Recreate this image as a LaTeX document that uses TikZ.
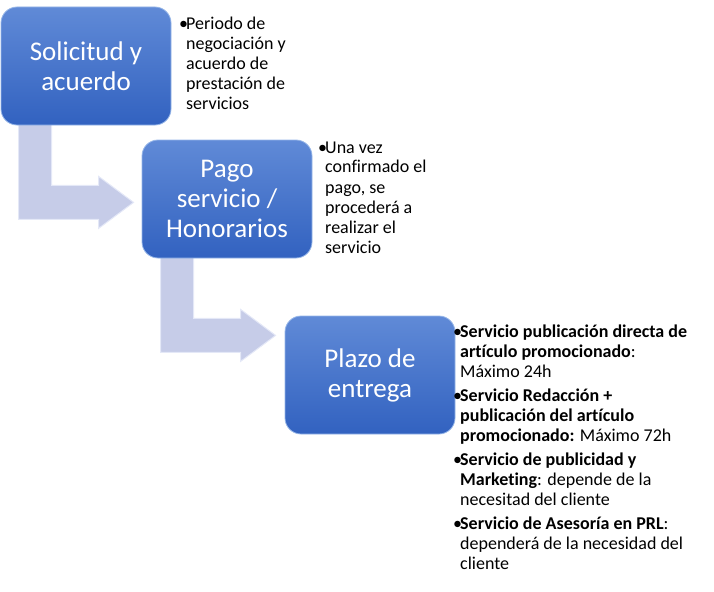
\documentclass[tikz,border=0pt]{standalone}
\usepackage{fontspec}
\setmainfont{Carlito}[Ligatures=NoCommon]
\usetikzlibrary{calc,backgrounds}
\definecolor{boxtop}{RGB}{96,138,215}
\definecolor{boxbot}{RGB}{50,98,192}
\definecolor{boxedge}{RGB}{150,182,232}
\definecolor{arrowfill}{RGB}{198,204,232}
\definecolor{arrowedge}{RGB}{228,232,247}
\newcommand\bitem{\par\hangindent=7pt\hangafter=1\noindent\makebox[7pt][l]{•}}
\begin{document}
\begin{tikzpicture}[x=1pt,y=-1pt,
  stepbox/.style={rounded corners=16pt, top color=boxtop, bottom color=boxbot,
    draw=boxedge, line width=0.8pt, minimum width=170pt, minimum height=118pt,
    text=white, align=center, font=\fontsize{27}{30}\selectfont, inner sep=0pt},
  desc/.style={anchor=base west, inner sep=0pt, font=\fontsize{18}{20}\selectfont},
  bentarrow/.style={fill=arrowfill, draw=arrowedge, line width=1pt, line join=miter}]
\useasboundingbox (0,0) rectangle (714,591);

\node[stepbox] (s1) at (86,66) {Solicitud y\\acuerdo};
\node[stepbox] (s2) at (227,199) {Pago\\servicio /\\Honorarios};
\node[stepbox] (s3) at (370,375) {Plazo de\\entrega};

\begin{scope}[on background layer]
\draw[bentarrow] ($(s1.south west)+(18,-5)$) coordinate (a1) -- ++(33,0) -- ++(0,65) -- ++(47,0) -- ++(0,-9)
  -- ++(35,26) -- ++(-35,26) -- ++(0,-9) -- ++(-80,0) -- cycle;
\draw[bentarrow] ($(s2.south west)+(19,-5)$) coordinate (a2) -- ++(33,0) -- ++(0,65) -- ++(47,0) -- ++(0,-9)
  -- ++(35,26) -- ++(-35,26) -- ++(0,-9) -- ++(-80,0) -- cycle;
\end{scope}

\node[desc] (d1) at (179,30) {\parbox[t]{150pt}{\bitem Periodo de\\negociación y\\acuerdo de\\prestación de\\servicios}};
\node[desc] (d2) at (318,153) {\parbox[t]{150pt}{\bitem Una vez\\confirmado el\\pago, se\\procederá a\\realizar el\\servicio}};
\node[desc] (d3) at (453,337) {\parbox[t]{260pt}{\parskip=4pt
\bitem\textbf{Servicio publicación directa de\\artículo promocionado}:\\Máximo 24h
\bitem\textbf{Servicio Redacción +\\publicación del artículo\\promocionado:} Máximo 72h
\bitem\textbf{Servicio de publicidad y\\Marketing}: depende de la\\necesitad del cliente
\bitem\textbf{Servicio de Asesoría en PRL}:\\dependerá de la necesidad del\\cliente}};
\end{tikzpicture}
\end{document}
